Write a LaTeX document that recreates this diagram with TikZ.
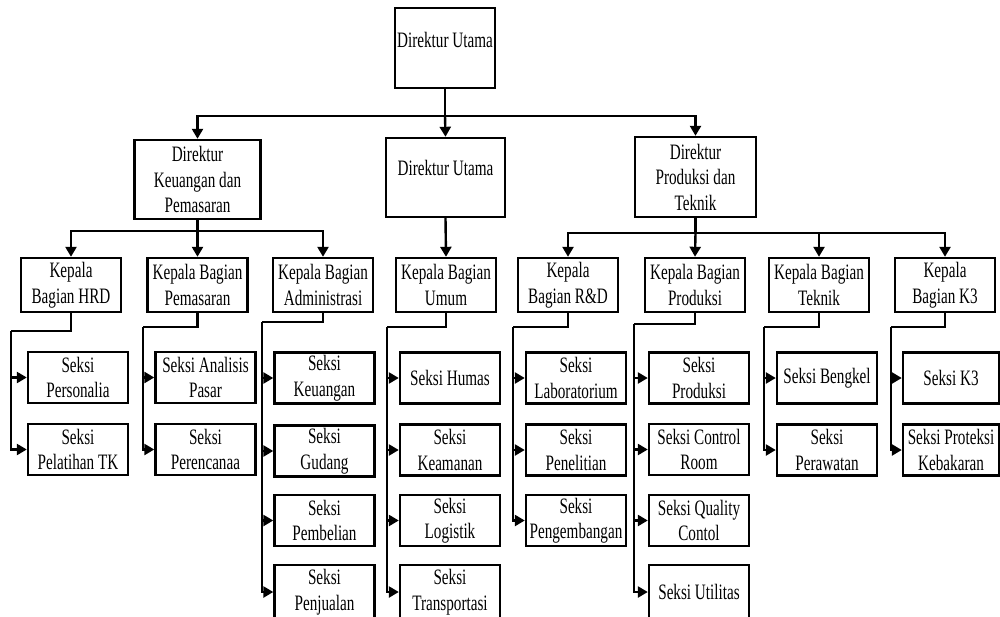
\documentclass[tikz,border=0pt]{standalone}
\usepackage{fontspec}
\setmainfont{Liberation Serif}[FakeStretch=0.69]
\usetikzlibrary{arrows.meta}
\begin{document}
\begin{tikzpicture}[x=1pt,y=-1pt,
  every node/.style={font=\fontsize{22pt}{25.5pt}\selectfont},
  box/.style={draw, line width=2.4pt, fill=white, align=center, inner sep=0pt, minimum width=100pt, minimum height=51pt},
  ln/.style={line width=2.4pt},
  arr/.style={ln, -{Triangle[length=10pt,width=11pt]}}]
\useasboundingbox (0,0) rectangle (1000,617);
\clip (0,0) rectangle (1000,617);
% level 1
\node[box, minimum width=100pt, minimum height=80pt] (top) at (445,48) {\raisebox{0pt}[0pt][0pt]{Direktur Utama}};
% level 2
\node[box, minimum width=126pt, minimum height=79pt] (keu) at (197.5,179.5) {Direktur\\Keuangan dan\\Pemasaran};
\node[box, minimum width=119pt, minimum height=79pt] (mid) at (445.5,177.5) {\raisebox{2pt}[0pt][0pt]{Direktur Utama}};
\node[box, minimum width=121pt, minimum height=80pt] (pdir) at (695.5,177) {Direktur\\Produksi dan\\Teknik};
% level 3
\node[box, minimum height=54pt] (hrd) at (71,285) {Kepala\\Bagian HRD};
\node[box, minimum height=54pt] (pem) at (197.5,285) {Kepala Bagian\\Pemasaran};
\node[box, minimum height=54pt] (adm) at (323,285) {Kepala Bagian\\Administrasi};
\node[box, minimum height=54pt] (umum) at (446,285) {Kepala Bagian\\Umum};
\node[box, minimum height=54pt] (rnd) at (568,285) {Kepala\\Bagian R\&D};
\node[box, minimum height=54pt] (kprod) at (695,285) {Kepala Bagian\\Produksi};
\node[box, minimum height=54pt] (tek) at (819,285) {Kepala Bagian\\Teknik};
\node[box, minimum height=54pt] (k3) at (945,285) {Kepala\\Bagian K3};
% level 4: HRD
\node[box] (hrd1) at (78,377.5) {Seksi\\Personalia};
\node[box] (hrd2) at (78,449.5) {Seksi\\Pelatihan TK};
% Pemasaran
\node[box] (pem1) at (205.5,377.5) {Seksi Analisis\\Pasar};
\node[box] (pem2) at (205.5,449.5) {Seksi\\Perencanaa};
% Administrasi
\node[box] (adm1) at (324.5,378) {Seksi\\Keuangan};
\node[box] (adm2) at (324.5,451) {Seksi\\Gudang};
\node[box] (adm3) at (324.5,520.5) {Seksi\\Pembelian};
\node[box, minimum height=54pt] (adm4) at (324.5,592) {Seksi\\Penjualan};
% Umum
\node[box] (umu1) at (450,378) {Seksi Humas};
\node[box] (umu2) at (450,450) {Seksi\\Keamanan};
\node[box] (umu3) at (450,520.5) {Seksi\\Logistik};
\node[box, minimum height=54pt] (umu4) at (450,592) {Seksi\\Transportasi};
% R&D
\node[box] (rnd1) at (576,378) {Seksi\\Laboratorium};
\node[box] (rnd2) at (576,450) {Seksi\\Penelitian};
\node[box] (rnd3) at (576,520.5) {Seksi\\Pengembangan};
% Produksi
\node[box] (pro1) at (699,378) {Seksi\\Produksi};
\node[box] (pro2) at (699,449.5) {Seksi Control\\Room};
\node[box] (pro3) at (699,520.5) {Seksi Quality\\Contol};
\node[box, minimum height=54pt] (pro4) at (699,592) {Seksi Utilitas};
% Teknik
\node[box] (tek1) at (827,378) {Seksi Bengkel};
\node[box] (tek2) at (827,450) {Seksi\\Perawatan};
% K3
\node[box, minimum width=96pt] (k31) at (951,378) {Seksi K3};
\node[box, minimum width=96pt] (k32) at (951,450) {Seksi Proteksi\\Kebakaran};
% bus coordinates
\coordinate (b1) at (445,116);
\coordinate (b2) at (197.5,231);
\coordinate (b3) at (695.5,233);
\coordinate (thrd) at (11,331);
\coordinate (tpem) at (143,327);
\coordinate (tadm) at (262,322);
\coordinate (tumu) at (387,327);
\coordinate (trnd) at (513,327);
\coordinate (tpro) at (634,324);
\coordinate (ttek) at (764,327);
\coordinate (tk3) at (891,327);
% connectors level 1-2
\draw[ln] (top.south) -- (b1);
\draw[arr] (b1) -| (keu.north);
\draw[arr] (b1) -- (mid.north);
\draw[arr] (b1) -| (pdir.north);
% level 2-3
\draw[ln] (keu.south) -- (b2);
\draw[arr] (b2) -| (hrd.north);
\draw[arr] (b2) -- (pem.north);
\draw[arr] (b2) -| (adm.north);
\draw[arr] (mid.south) -- (umum.north);
\draw[ln] (pdir.south) -- (b3);
\draw[arr] (b3) -| (rnd.north);
\draw[arr] (b3) -- (kprod.north);
\draw[arr] (b3) -| (tek.north);
\draw[arr] (b3) -| (k3.north);
% level 3-4
\draw[ln] (hrd.south) |- (thrd);
\draw[arr] (thrd) |- (hrd1.west);
\draw[arr] (thrd) |- (hrd2.west);
\draw[ln] (pem.south) |- (tpem);
\draw[arr] (tpem) |- (pem1.west);
\draw[arr] (tpem) |- (pem2.west);
\draw[ln] (adm.south) |- (tadm);
\draw[arr] (tadm) |- (adm1.west);
\draw[arr] (tadm) |- (adm2.west);
\draw[arr] (tadm) |- (adm3.west);
\draw[arr] (tadm) |- (adm4.west);
\draw[ln] (umum.south) |- (tumu);
\draw[arr] (tumu) |- (umu1.west);
\draw[arr] (tumu) |- (umu2.west);
\draw[arr] (tumu) |- (umu3.west);
\draw[arr] (tumu) |- (umu4.west);
\draw[ln] (rnd.south) |- (trnd);
\draw[arr] (trnd) |- (rnd1.west);
\draw[arr] (trnd) |- (rnd2.west);
\draw[arr] (trnd) |- (rnd3.west);
\draw[ln] (kprod.south) |- (tpro);
\draw[arr] (tpro) |- (pro1.west);
\draw[arr] (tpro) |- (pro2.west);
\draw[arr] (tpro) |- (pro3.west);
\draw[arr] (tpro) |- (pro4.west);
\draw[ln] (tek.south) |- (ttek);
\draw[arr] (ttek) |- (tek1.west);
\draw[arr] (ttek) |- (tek2.west);
\draw[ln] (k3.south) |- (tk3);
\draw[arr] (tk3) |- (k31.west);
\draw[arr] (tk3) |- (k32.west);
\end{tikzpicture}
\end{document}
